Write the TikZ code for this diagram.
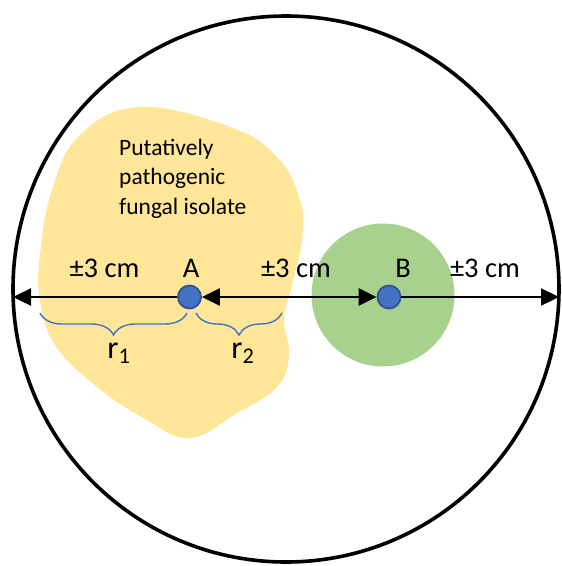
\documentclass[tikz,border=0pt]{standalone}
\usepackage{fontspec}
\setmainfont{Carlito}
\usetikzlibrary{arrows.meta,decorations.pathreplacing,positioning}

\definecolor{isolate}{HTML}{FFE699}
\definecolor{colony}{HTML}{A9D18E}
\definecolor{dotblue}{HTML}{4472C4}
\definecolor{dotedge}{HTML}{2F528F}

\begin{document}
\begin{tikzpicture}[
  x=1pt, y=-1pt,
  point/.style={circle, draw=dotedge, fill=dotblue, line width=1.8pt, minimum size=23pt, inner sep=0pt},
  lbl/.style={anchor=base, font=\fontsize{28.5}{34}\selectfont},
  rlbl/.style={anchor=base, font=\fontsize{32}{38}\selectfont},
  dist/.style={line width=2.4pt},
  dishtip/.tip={Triangle[length=18pt, width=17pt]},
  rbrace/.style={draw=dotblue, line width=1.4pt, decorate, decoration={brace, mirror, amplitude=22pt}}
]
  \useasboundingbox (0,0) rectangle (562,566);

  % Fungal isolate and second colony
  \fill[isolate] plot[smooth cycle, tension=0.7] coordinates {
    (140,107) (230,127) (277,157) (300,200) (302,240) (292,285) (284,320)
    (289,355) (277,387) (237,413) (190,438) (147,420) (97,387) (55,345)
    (40,300) (40,255) (52,190) (80,135)};
  \fill[colony] (383,295) circle (71.5);

  % Petri dish
  \draw[line width=3.6pt] (286,289) circle (273);
  \coordinate (rimL) at (13,297);
  \coordinate (rimR) at (559,297);

  % Points
  \node[point] (A) at (189.5,297) {};
  \node[point] (B) at (389,297) {};

  % Distances
  \draw[dist, -{dishtip}] (A) -- (rimL);
  \draw[dist, {dishtip}-{dishtip}] (A) -- (B);
  \draw[dist, -{dishtip}] (B) -- (rimR);

  % Labels (base of a multi-line node is its last line)
  \node[anchor=base west, align=left, inner sep=0pt, font=\fontsize{23.5}{29.5}\selectfont] (txt) at (119,214)
    {Putatively\\pathogenic\\fungal isolate};
  \node[lbl] (dL) at (104.5,277) {±3 cm};
  \node[lbl] (lA) at (191,277) {A};
  \node[lbl] (dM) at (296,277) {±3 cm};
  \node[lbl] (lB) at (403,277) {B};
  \node[lbl] (dR) at (485,277) {±3 cm};

  % Radii
  \coordinate (b1s) at (40,313);
  \coordinate (b1e) at (187,313);
  \coordinate (b2s) at (196,313);
  \coordinate (b2e) at (282,313);
  \draw[rbrace] (b1s) -- (b1e);
  \draw[rbrace] (b2s) -- (b2e);
  \node[rlbl] (r1) at (119,358) {r\textsubscript{1}};
  \node[rlbl] (r2) at (243,358) {r\textsubscript{2}};
\end{tikzpicture}
\end{document}
